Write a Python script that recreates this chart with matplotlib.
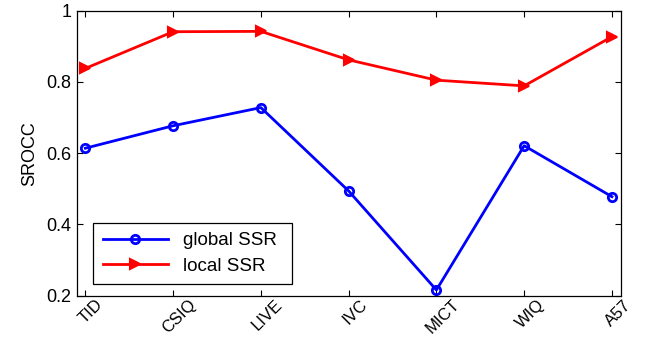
import matplotlib.pyplot as plt
from matplotlib.transforms import ScaledTranslation

datasets = ["TID", "CSIQ", "LIVE", "IVC", "MICT", "WIQ", "A57"]
global_ssr = [0.614, 0.677, 0.728, 0.494, 0.216, 0.621, 0.478]
local_ssr = [0.838, 0.941, 0.942, 0.862, 0.805, 0.789, 0.927]
y_ticks = [0.2, 0.4, 0.6, 0.8, 1.0]
y_tick_labels = ["0.2", "0.4", "0.6", "0.8", "1"]

plt.rcParams["font.family"] = ["Liberation Sans", "DejaVu Sans"]
plt.rcParams["font.size"] = 13

fig = plt.figure(figsize=(6.5, 3.41), dpi=100)
ax = fig.add_axes([77 / 650, 1 - 295.7 / 341, 543.7 / 650, 285 / 341])

x = list(range(1, len(datasets) + 1))
ax.plot(x, global_ssr, "o-", color="blue", lw=2, ms=6, mew=2, mfc="none",
        label="global SSR")
ax.plot(x, local_ssr, ">-", color="red", lw=2, ms=7, mew=1.5,
        label="local SSR")

ax.set_xlim(0.905, 7.1)
ax.set_ylim(0.2, 1.0)
ax.set_xticks(x)
ax.set_xticklabels(datasets, rotation=45, ha="center", va="top", fontsize=12)
ax.set_yticks(y_ticks)
ax.set_yticklabels(y_tick_labels)
ax.tick_params(direction="in", top=True, right=True, length=4, width=0.8,
               pad=4)
ax.tick_params(axis="y", labelsize=13)
ax.tick_params(axis="x", pad=1)
offset = ScaledTranslation(6 / 100, 0, fig.dpi_scale_trans)
for lab in ax.get_xticklabels():
    lab.set_transform(lab.get_transform() + offset)
for s in ax.spines.values():
    s.set_linewidth(0.9)
ax.set_ylabel("SROCC", fontsize=13, labelpad=6)

leg = ax.legend(loc="lower left", bbox_to_anchor=(0.03, 0.04, 0.365, 0.235),
                mode="expand", fancybox=False, edgecolor="black",
                framealpha=1, fontsize=13.5, handlelength=3.5,
                borderaxespad=0, labelspacing=0.45, borderpad=0.5)
leg.get_frame().set_linewidth(0.9)

fig.savefig("out.png", dpi=100)
